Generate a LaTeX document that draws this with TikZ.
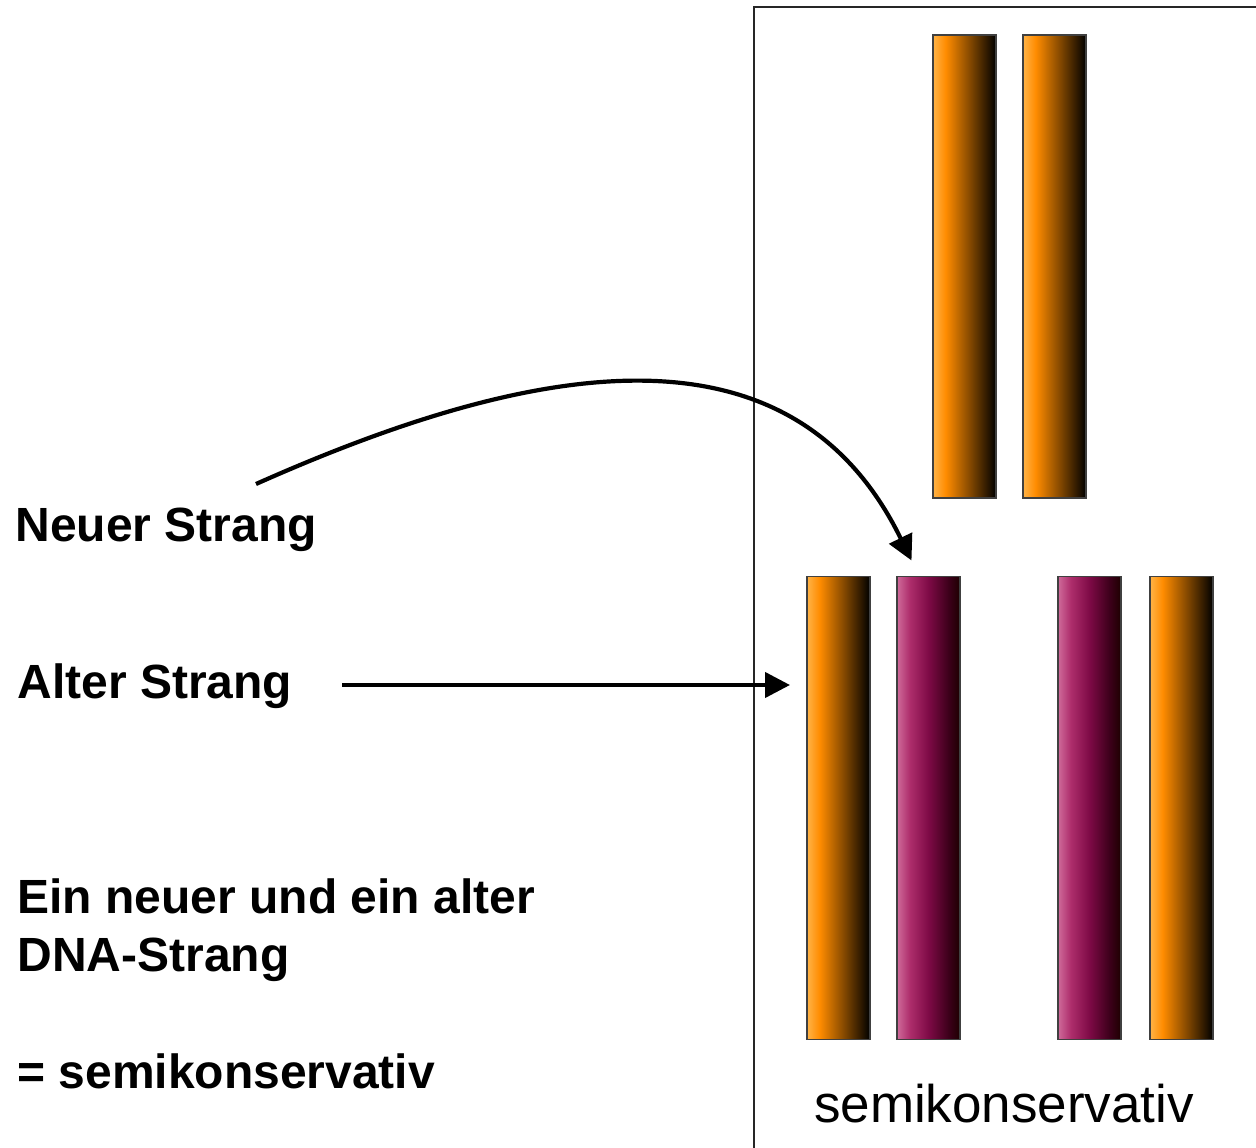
\documentclass[tikz,border=0pt]{standalone}
\usepackage{fontspec}
\setmainfont{Liberation Sans}
\usetikzlibrary{positioning,arrows.meta}

\definecolor{altlicht}{HTML}{FFB347}
\definecolor{altorange}{HTML}{FF8C00}
\definecolor{neulicht}{HTML}{CF6A9A}
\definecolor{neumitte}{HTML}{AE2E6C}
\definecolor{neudunkel}{HTML}{7E0A46}
\definecolor{neuschwarz}{HTML}{3C001A}
\definecolor{neuende}{HTML}{1E0000}

\pgfdeclarehorizontalshading{altshade}{100bp}{color(0bp)=(altlicht); color(25bp)=(altlicht); color(35bp)=(altorange); color(75bp)=(black); color(100bp)=(black)}
\pgfdeclarehorizontalshading{neushade}{100bp}{color(0bp)=(neulicht); color(25bp)=(neulicht); color(35bp)=(neumitte); color(50bp)=(neudunkel); color(66bp)=(neuschwarz); color(75bp)=(neuende); color(100bp)=(neuende)}

\tikzset{
  strang/.style={rectangle, minimum width=31.5bp, minimum height=231.5bp, inner sep=0pt, outer sep=0pt, draw=black!75, line width=0.7bp},
  altstrang/.style={strang, shade, shading=altshade},
  neustrang/.style={strang, shade, shading=neushade},
  beschr/.style={font=\fontsize{24bp}{29bp}\selectfont\bfseries, anchor=base west, inner sep=0pt, align=left},
  pfeil/.style={line width=2.1bp, -{Triangle[length=12.5bp,width=12.5bp]}},
  rahmen/.style={line width=1.4bp, black!85}
}

\begin{document}
\begin{tikzpicture}[x=0.5bp, y=-0.5bp]
		\useasboundingbox (0,0) rectangle (1256,1148);

		\draw[rahmen] (754,1148) |- (1256,7);

		\node[altstrang] (t1) at (964.5,266.5) {};
		\node[altstrang, right=13.5bp of t1] (t2) {};

		\node[altstrang] (o1) at (838.5,808) {};
		\node[neustrang, right=13.5bp of o1] (m1) {};
		\node[neustrang, right=49bp of m1] (m2) {};
		\node[altstrang, right=14.5bp of m2] (o2) {};

		\node[font=\fontsize{26.5bp}{30bp}\selectfont, anchor=base, inner sep=0pt] (semi) at (1004,1122) {semikonservativ};

		\node[beschr] (neu) at (15,542) {Neuer Strang};
		\node[beschr] (alt) at (17,698) {Alter Strang};
		\node[beschr] (ein) at (17,971) {Ein neuer und ein alter\\DNA-Strang};
		\node[beschr] (gleich) at (17,1088) {= semikonservativ};

		\coordinate (neustart) at (256,484);
		\coordinate (neuziel) at ([xshift=-8.5bp,yshift=8bp]m1.north);
		\coordinate (altstart) at (342,685);
		\coordinate (altziel) at (790,685);

		\draw[pfeil] (neustart) .. controls (530,362) and (790,312) .. (neuziel);
		\draw[pfeil] (altstart) -- (altziel);
\end{tikzpicture}
\end{document}
